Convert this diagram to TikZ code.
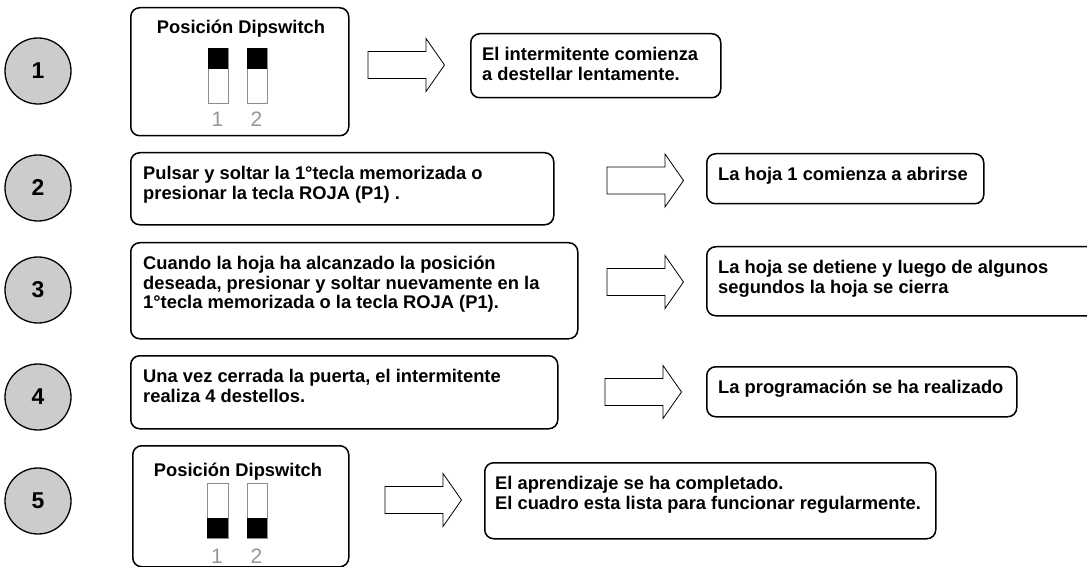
\documentclass[tikz,border=0pt]{standalone}
\usepackage{fontspec}
\setmainfont{Liberation Sans}
\usetikzlibrary{positioning}
\definecolor{circfill}{RGB}{204,204,204}
\definecolor{dipgray}{RGB}{140,140,140}
\definecolor{numgray}{RGB}{150,150,150}
\tikzset{
  stepcircle/.style={circle,draw,line width=1.3bp,fill=circfill,minimum size=66bp,inner sep=0pt,font=\fontsize{23}{23}\selectfont\bfseries},
  roundbox/.style={draw,line width=1.5bp,rounded corners=9bp,inner sep=0pt,anchor=north west},
  boxtext/.style={align=left,inner sep=0pt,anchor=north west,font=\fontsize{18.4}{20}\selectfont\bfseries},
  diptitle/.style={anchor=base,inner sep=0pt,font=\fontsize{18.4}{20}\selectfont\bfseries},
  dipframe/.style={draw=dipgray,line width=0.7bp,fill=white},
  dipnum/.style={text=numgray,inner sep=0pt,anchor=base,font=\fontsize{21}{21}\selectfont},
  arrowshape/.style={draw,fill=white,line width=0.8bp,line join=miter}
}
% block arrow: left end x, middle y
\newcommand{\fatarrow}[2]{%
  \draw[arrowshape] (#1,#2-13.5) -- ++(58,0) -- ++(0,-13) -- ++(18.5,26.5)
    -- ++(-18.5,26.5) -- ++(0,-13) -- ++(-58,0) -- cycle;}
\begin{document}
\begin{tikzpicture}[x=1bp,y=-1bp]
  \useasboundingbox (0,0) rectangle (1087,567);
  \clip (0,0) rectangle (1087,567);
%%
  % Node: step1
  \node[stepcircle] (step1) at (38,71) {1};
  \node[roundbox,minimum width=218bp,minimum height=128bp] (dip1) at (130,7) {};
  \node[diptitle] (dip1title) at (241,34) {Posición Dipswitch};
  \draw[dipframe] (208,48) rectangle (228,103);
  \fill (208,48) rectangle (228,69);
  \draw[dipframe] (247,48) rectangle (267,103);
  \fill (247,48) rectangle (267,69);
  \node[dipnum] (dip1a) at (217.5,127) {1};
  \node[dipnum] (dip1b) at (256.5,127) {2};
  \fatarrow{368}{65}
  \node[roundbox,minimum width=250bp,minimum height=64bp] (res1) at (470,33) {};
  \node[boxtext] (res1txt) at ([xshift=12bp,yshift=-13bp]res1.north west)
    {\strut El intermitente comienza\\a destellar lentamente.};
  % Node: step2
  \node[stepcircle] (step2) at (38,188) {2};
  \node[roundbox,minimum width=423bp,minimum height=72bp] (act2) at (130,152) {};
  \node[boxtext] (act2txt) at ([xshift=13bp,yshift=-13bp]act2.north west)
    {\strut Pulsar y soltar la 1°tecla memorizada o\\presionar la tecla ROJA (P1) .};
  \fatarrow{607}{180.5}
  \node[roundbox,minimum width=277bp,minimum height=50bp] (res2) at (706,153) {};
  \node[boxtext] (res2txt) at ([xshift=12bp,yshift=-13bp]res2.north west)
    {\strut La hoja 1 comienza a abrirse};
  % Node: step3
  \node[stepcircle] (step3) at (38,290) {3};
  \node[roundbox,minimum width=447bp,minimum height=96bp] (act3) at (130,242) {};
  \node[boxtext] (act3txt) at ([xshift=13bp,yshift=-13bp]act3.north west)
    {\strut Cuando la hoja ha alcanzado la posición\\deseada, presionar y soltar nuevamente en la\\1°tecla memorizada o la tecla ROJA (P1).};
  \fatarrow{607}{282}
  \node[roundbox,minimum width=420bp,minimum height=69bp] (res3) at (706,246) {};
  \node[boxtext] (res3txt) at ([xshift=12bp,yshift=-13bp]res3.north west)
    {\strut La hoja se detiene y luego de algunos\\segundos la hoja se cierra};
  % Node: step4
  \node[stepcircle] (step4) at (38,397) {4};
  \node[roundbox,minimum width=427bp,minimum height=73bp] (act4) at (130,355) {};
  \node[boxtext] (act4txt) at ([xshift=13bp,yshift=-13bp]act4.north west)
    {\strut Una vez cerrada la puerta, el intermitente\\realiza 4 destellos.};
  \fatarrow{605}{392}
  \node[roundbox,minimum width=310bp,minimum height=50bp] (res4) at (706,366) {};
  \node[boxtext] (res4txt) at ([xshift=12bp,yshift=-13bp]res4.north west)
    {\strut La programación se ha realizado};
  % Node: step5
  \node[stepcircle] (step5) at (38,501) {5};
  \node[roundbox,minimum width=216bp,minimum height=121bp] (dip5) at (132,445) {};
  \node[diptitle] (dip5title) at (238,476) {Posición Dipswitch};
  \draw[dipframe] (207,483) rectangle (228,538);
  \fill (207,518) rectangle (228,538);
  \draw[dipframe] (247,483) rectangle (267,538);
  \fill (247,518) rectangle (267,538);
  \node[dipnum] (dip5a) at (217,563) {1};
  \node[dipnum] (dip5b) at (256.5,563) {2};
  \fatarrow{385}{500}
  \node[roundbox,minimum width=451bp,minimum height=76bp] (res5) at (484,462) {};
  \node[boxtext] (res5txt) at ([xshift=11bp,yshift=-13bp]res5.north west)
    {\strut El aprendizaje se ha completado.\\El cuadro esta lista para funcionar regularmente.};
%
\end{tikzpicture}
\end{document}
